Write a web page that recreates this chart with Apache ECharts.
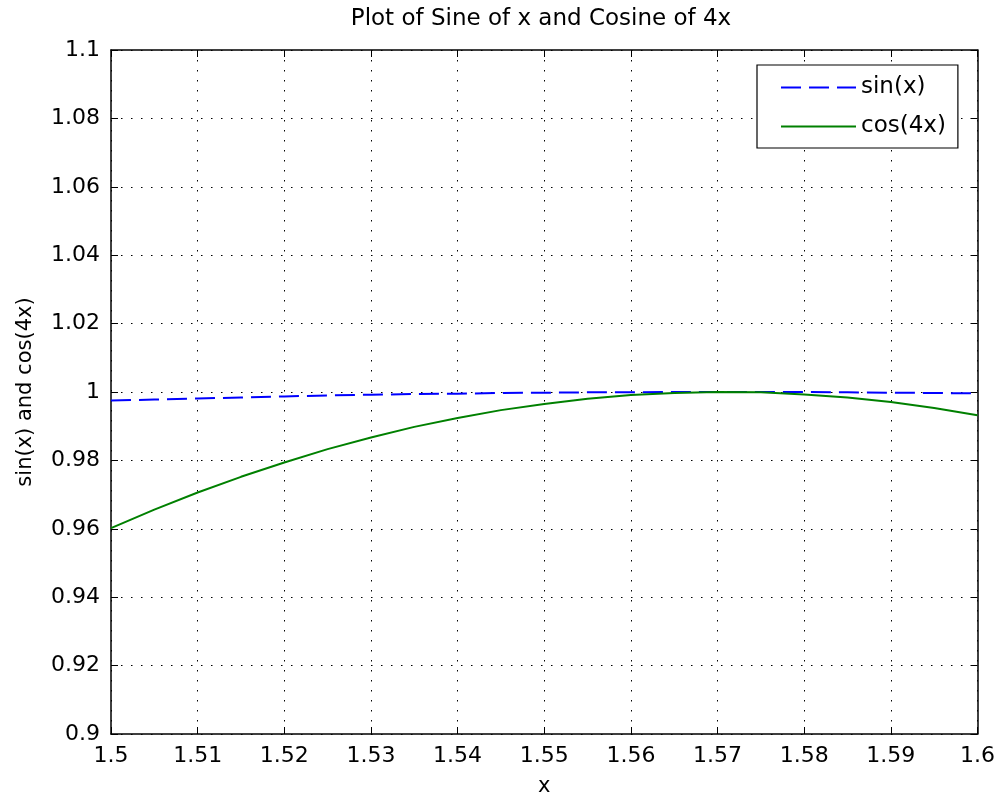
<!DOCTYPE html>
<html>
<head>
<meta charset="utf-8">
<script src="https://cdn.jsdelivr.net/npm/echarts@6/dist/echarts.min.js"></script>
<style>html,body{margin:0;padding:0;background:#fff;}#c{width:998px;height:805px;}</style>
</head>
<body>
<div id="c"></div>
<script>
// Data
var xValues   = [1.500, 1.505, 1.510, 1.515, 1.520, 1.525, 1.530, 1.535, 1.540, 1.545, 1.550, 1.555, 1.560, 1.565, 1.570, 1.575, 1.580, 1.585, 1.590, 1.595, 1.600];
var sinValues = [0.9975, 0.9978, 0.9981, 0.9984, 0.9987, 0.9990, 0.9992, 0.9994, 0.9995, 0.9997, 0.9998, 0.9999, 0.9999, 1.0000, 1.0000, 1.0000, 1.0000, 0.9999, 0.9998, 0.9997, 0.9996];
var cosValues = [0.9602, 0.9656, 0.9706, 0.9752, 0.9794, 0.9833, 0.9867, 0.9898, 0.9924, 0.9947, 0.9965, 0.9980, 0.9991, 0.9997, 1.0000, 0.9999, 0.9993, 0.9984, 0.9971, 0.9953, 0.9932];
var xTicks = {min: 1.5, max: 1.6, interval: 0.01};
var yTicks = {min: 0.9, max: 1.1, interval: 0.02};
var seriesNames = ['sin(x)', 'cos(4x)'];
var titleText = 'Plot of Sine of x and Cosine of 4x';
var xName = 'x';
var yName = 'sin(x) and cos(4x)';

function pairs(xs, ys) { return xs.map(function (x, i) { return [x, ys[i]]; }); }

var FONT = 'DejaVu Sans';
var chart = echarts.init(document.getElementById('c'), null, {renderer: 'canvas'});
var gridLine = {show: true, lineStyle: {color: '#000', width: 1, type: [1.5, 8.5]}};
var tick = {show: true, inside: true, length: 7, lineStyle: {color: '#000', width: 1}};
var line = {show: true, lineStyle: {color: '#000', width: 1.5}};
chart.setOption({
  animation: false,
  backgroundColor: '#fff',
  graphic: [{
    type: 'text', x: 541, y: 8,
    style: {text: titleText, fill: '#000', font: '23px "' + FONT + '"', textAlign: 'center', textVerticalAlign: 'top'}
  }],
  grid: {left: 111, right: 18, top: 50, bottom: 71, containLabel: false},
  legend: {
    orient: 'vertical', left: 757, top: 65,
    padding: [11, 12, 10, 23], itemGap: 16, itemWidth: 75, itemHeight: 24,
    backgroundColor: '#fff', borderColor: '#000', borderWidth: 1.2, borderRadius: 0,
    itemStyle: {opacity: 0},
    textStyle: {fontFamily: FONT, fontSize: 23, color: '#000'},
    data: seriesNames
  },
  xAxis: [{
    type: 'value', min: xTicks.min, max: xTicks.max, interval: xTicks.interval,
    axisLine: line, axisTick: tick, splitLine: gridLine,
    axisLabel: {color: '#000', fontFamily: FONT, fontSize: 22, margin: 11},
    name: xName, nameLocation: 'middle', nameGap: 42,
    nameTextStyle: {color: '#000', fontFamily: FONT, fontSize: 21}
  }, {
    type: 'value', position: 'top', min: xTicks.min, max: xTicks.max, interval: xTicks.interval,
    axisLine: line, axisTick: tick, splitLine: {show: false}, axisLabel: {show: false}
  }],
  yAxis: [{
    type: 'value', min: yTicks.min, max: yTicks.max, interval: yTicks.interval,
    axisLine: line, axisTick: tick, splitLine: gridLine,
    axisLabel: {color: '#000', fontFamily: FONT, fontSize: 22, margin: 11},
    name: yName, nameLocation: 'middle', nameGap: 75, nameRotate: 90,
    nameTextStyle: {color: '#000', fontFamily: FONT, fontSize: 21}
  }, {
    type: 'value', position: 'right', min: yTicks.min, max: yTicks.max, interval: yTicks.interval,
    axisLine: line, axisTick: tick, splitLine: {show: false}, axisLabel: {show: false}
  }],
  series: [{
    name: seriesNames[0], type: 'line', data: pairs(xValues, sinValues),
    showSymbol: false, symbol: 'none', smooth: false,
    lineStyle: {color: '#0000ff', width: 2, type: [20, 8]}, itemStyle: {color: '#0000ff'}
  }, {
    name: seriesNames[1], type: 'line', data: pairs(xValues, cosValues),
    showSymbol: false, symbol: 'none', smooth: false,
    lineStyle: {color: '#008000', width: 2}, itemStyle: {color: '#008000'}
  }]
});
</script>
</body>
</html>
